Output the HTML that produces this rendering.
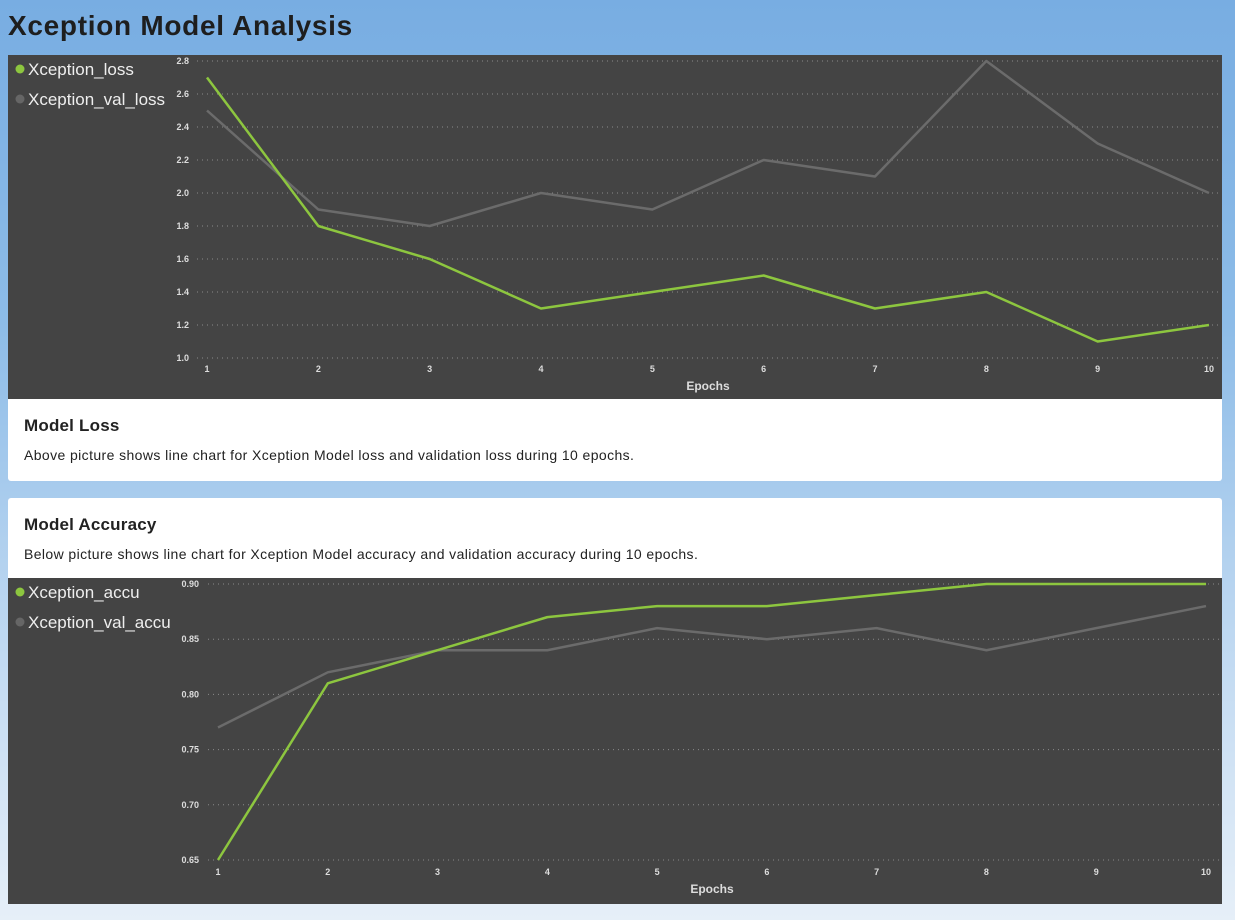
<!DOCTYPE html>
<html><head><meta charset="utf-8">
<style>
html,body{margin:0;padding:0;}
body{width:1235px;height:920px;overflow:hidden;position:relative;font-family:"Liberation Sans","DejaVu Sans",sans-serif;
background:linear-gradient(180deg,#78ade2 0%,#8dbce8 35%,#b9d5f0 65%,#e6eff8 100%);}
h1{position:absolute;left:8px;top:10px;margin:0;font-size:28px;letter-spacing:0.7px;font-weight:bold;color:#1e1e1e;}
.panel{position:absolute;left:8px;width:1214px;background:#444;}
.card{position:absolute;left:8px;width:1214px;background:#fff;border-radius:3px;}
.card h2{margin:0;position:absolute;left:16px;font-size:17px;letter-spacing:0.2px;font-weight:bold;color:#222;}
.card p{margin:0;position:absolute;left:16px;font-size:14px;letter-spacing:0.4px;color:#222;}
svg text{font-family:"Liberation Sans","DejaVu Sans",sans-serif;}
</style></head><body>
<h1>Xception Model Analysis</h1>
<div class="panel" style="top:55px;height:344px;">
<svg id="c1" width="1214" height="344"></svg></div>
<div class="card" style="top:399px;height:82px;border-radius:0 0 3px 3px;">
<h2 style="top:17px">Model Loss</h2>
<p style="top:48px">Above picture shows line chart for Xception Model loss and validation loss during 10 epochs.</p></div>
<div class="card" style="top:498px;height:80px;border-radius:3px 3px 0 0;">
<h2 style="top:17px">Model Accuracy</h2>
<p style="top:48px">Below picture shows line chart for Xception Model accuracy and validation accuracy during 10 epochs.</p></div>
<div class="panel" style="top:578px;height:326px;">
<svg id="c2" width="1214" height="326"></svg></div>
<script>
const epochs=[1,2,3,4,5,6,7,8,9,10];
const lossTicks=[1.0,1.2,1.4,1.6,1.8,2.0,2.2,2.4,2.6,2.8];
const xceptionLoss=[2.7,1.8,1.6,1.3,1.4,1.5,1.3,1.4,1.1,1.2];
const xceptionValLoss=[2.5,1.9,1.8,2.0,1.9,2.2,2.1,2.8,2.3,2.0];
const accTicks=[0.65,0.70,0.75,0.80,0.85,0.90];
const xceptionAccu=[0.65,0.81,0.84,0.87,0.88,0.88,0.89,0.90,0.90,0.90];
const xceptionValAccu=[0.77,0.82,0.84,0.84,0.86,0.85,0.86,0.84,0.86,0.88];
const NS='http://www.w3.org/2000/svg';
function mk(svg,tag,attrs){const e=document.createElementNS(NS,tag);for(const k in attrs)e.setAttribute(k,attrs[k]);svg.appendChild(e);return e;}
function draw(id,cfg){
  const svg=document.getElementById(id);
  const xs=i=>cfg.x0+(cfg.x1-cfg.x0)*(epochs[i]-1)/(epochs.length-1);
  const ys=v=>cfg.yb+(cfg.yt-cfg.yb)*(v-cfg.min)/(cfg.max-cfg.min);
  cfg.ticks.forEach(t=>{
    const g=mk(svg,'line',{x1:cfg.gx,x2:1214,y1:ys(t),y2:ys(t),stroke:'#8a8a8a','stroke-width':1,'stroke-dasharray':'1 4'});
    
    
    const tx=mk(svg,'text',{x:cfg.lx,y:ys(t)+3,'text-anchor':'end','font-size':9,'font-weight':'bold',fill:'#ddd'});
    tx.textContent=cfg.fmt(t);
    
    
  });
  epochs.forEach((e,i)=>{
    const tx=mk(svg,'text',{x:xs(i),y:cfg.xly,'text-anchor':'middle','font-size':9,'font-weight':'bold',fill:'#ddd'});
    tx.textContent=e;
    
    
  });
  const at=mk(svg,'text',{x:(cfg.x0+cfg.x1)/2,y:cfg.xly+18,'text-anchor':'middle','font-size':12,'font-weight':'bold',fill:'#ddd'});
  at.textContent='Epochs';
  
  
  cfg.series.forEach(s=>{
    const p=mk(svg,'polyline',{points:s.data.map((v,i)=>xs(i)+','+ys(v)).join(' '),fill:'none',stroke:s.color,'stroke-width':s.w,'stroke-linejoin':'round'});
    
    
  });
  cfg.series.forEach((s,k)=>{
    const cy=cfg.legY+(cfg.series.length-1-k)*30;
    const c=mk(svg,'circle',{cx:12,cy:cy,r:4.5,fill:s.dot});
    
    
    const t=mk(svg,'text',{x:20,y:cy+6,'font-size':17,fill:'#eee'});
    t.textContent=s.name;
    
    
  });
}
draw('c1',{x0:199,x1:1201,yt:6,yb:303,min:1.0,max:2.8,ticks:lossTicks,fmt:t=>t.toFixed(1),gx:189,lx:181,xly:317,legY:14,
  series:[{name:'Xception_val_loss',data:xceptionValLoss,color:'#6b6b6b',dot:'#666',w:2.5},
          {name:'Xception_loss',data:xceptionLoss,color:'#8dc63f',dot:'#8dc63f',w:2.5}]});
draw('c2',{x0:210,x1:1198,yt:6,yb:282,min:0.65,max:0.90,ticks:accTicks,fmt:t=>t.toFixed(2),gx:200,lx:191,xly:297,legY:14,
  series:[{name:'Xception_val_accu',data:xceptionValAccu,color:'#6b6b6b',dot:'#666',w:2.5},
          {name:'Xception_accu',data:xceptionAccu,color:'#8dc63f',dot:'#8dc63f',w:2.5}]});
</script>
</body></html>
